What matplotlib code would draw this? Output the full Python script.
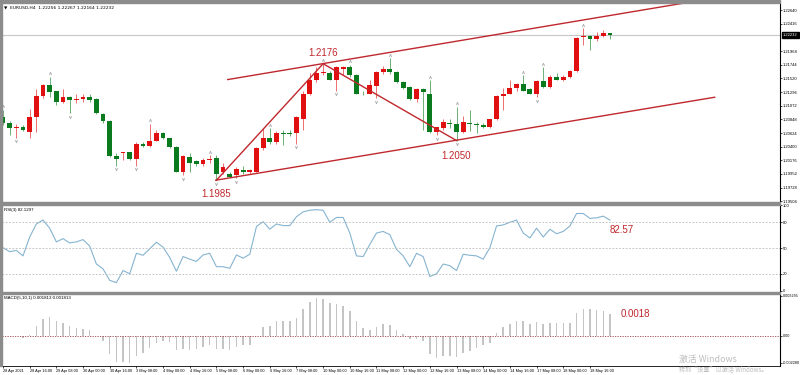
import matplotlib as mpl
mpl.use('agg')
import matplotlib.pyplot as plt
import matplotlib.transforms as mtrans
from matplotlib.patches import Rectangle
import numpy as np

plt.rcParams['font.family'] = ['Liberation Sans', 'DejaVu Sans']

# EURUSD H4 candles, 28 Apr 2021 00:00 .. 19 May 04:00
opens = [1.2088, 1.2078, 1.2070, 1.2073, 1.2064, 1.2088, 1.2123, 1.2141, 1.2131, 1.2113,
         1.2121, 1.2116, 1.2118, 1.2121, 1.2118, 1.2093, 1.2082, 1.2024, 1.2029, 1.2031,
         1.2019, 1.2045, 1.2041, 1.2050, 1.2062, 1.2054, 1.2039, 1.1998, 1.2023, 1.2016,
         1.2011, 1.2018, 1.2021, 1.1998, 1.1996, 1.1993, 1.2001, 1.1998, 1.1999, 1.2037,
         1.2055, 1.2047, 1.2062, 1.2062, 1.2062, 1.2086, 1.2127, 1.2149, 1.2160, 1.2160,
         1.2150, 1.2168, 1.2170, 1.2157, 1.2127, 1.2127, 1.2139, 1.2162, 1.2167, 1.2162,
         1.2146, 1.2137, 1.2118, 1.2134, 1.2127, 1.2064, 1.2070, 1.2078, 1.2077, 1.2064,
         1.2078, 1.2077, 1.2075, 1.2072, 1.2085, 1.2123, 1.2127, 1.2136, 1.2142, 1.2134,
         1.2127, 1.2147, 1.2137, 1.2154, 1.2149, 1.2154, 1.2164, 1.2219, 1.2221, 1.2216,
         1.2221, 1.22256]
highs = [1.2100, 1.2082, 1.2077, 1.2075, 1.2101, 1.2134, 1.2142, 1.2154, 1.2132, 1.2134,
         1.2123, 1.2126, 1.2126, 1.2126, 1.2119, 1.2095, 1.2083, 1.2029, 1.2032, 1.2032,
         1.2047, 1.2047, 1.2077, 1.2067, 1.2064, 1.2055, 1.2041, 1.2026, 1.2029, 1.2018,
         1.2021, 1.2026, 1.2026, 1.2013, 1.1998, 1.2006, 1.2009, 1.2004, 1.2039, 1.2070,
         1.2070, 1.2065, 1.2067, 1.2067, 1.2091, 1.2131, 1.2160, 1.2170, 1.2176, 1.2164,
         1.2172, 1.2173, 1.2174, 1.2159, 1.2132, 1.2149, 1.2164, 1.2172, 1.2185, 1.2164,
         1.2147, 1.2139, 1.2136, 1.2136, 1.2149, 1.2073, 1.2085, 1.2086, 1.2105, 1.2091,
         1.2100, 1.2080, 1.2078, 1.2086, 1.2124, 1.2136, 1.2149, 1.2144, 1.2157, 1.2136,
         1.2149, 1.2170, 1.2157, 1.2160, 1.2157, 1.2165, 1.2219, 1.2234, 1.2223, 1.2228,
         1.2232, 1.22267]
lows = [1.2075, 1.2059, 1.2055, 1.2065, 1.2055, 1.2064, 1.2119, 1.2121, 1.2108, 1.2111,
        1.2095, 1.2111, 1.2113, 1.2113, 1.2093, 1.2078, 1.2023, 1.2009, 1.2018, 1.2018,
        1.2009, 1.2039, 1.2039, 1.2049, 1.2052, 1.2037, 1.1998, 1.1993, 1.1998, 1.2009,
        1.2009, 1.2014, 1.1985, 1.1995, 1.1990, 1.1988, 1.1995, 1.1996, 1.1998, 1.2034,
        1.2045, 1.2045, 1.2042, 1.2057, 1.2045, 1.2067, 1.2124, 1.2146, 1.2157, 1.2149,
        1.2132, 1.2157, 1.2155, 1.2126, 1.2124, 1.2126, 1.2119, 1.2159, 1.2159, 1.2144,
        1.2134, 1.2116, 1.2114, 1.2067, 1.2062, 1.2059, 1.2067, 1.2070, 1.2050, 1.2062,
        1.2065, 1.2062, 1.2070, 1.2070, 1.2083, 1.2100, 1.2126, 1.2132, 1.2131, 1.2126,
        1.2121, 1.2136, 1.2136, 1.2149, 1.2147, 1.2152, 1.2162, 1.2206, 1.2198, 1.2214,
        1.2219, 1.22164]
closes = [1.2078, 1.2070, 1.2073, 1.2067, 1.2088, 1.2123, 1.2141, 1.2129, 1.2113, 1.2121,
          1.2116, 1.2118, 1.2121, 1.2116, 1.2095, 1.2082, 1.2024, 1.2019, 1.2031, 1.2019,
          1.2045, 1.2041, 1.2050, 1.2062, 1.2054, 1.2039, 1.1999, 1.2024, 1.2014, 1.2011,
          1.2018, 1.2019, 1.1995, 1.2006, 1.1991, 1.2003, 1.1998, 1.2001, 1.2037, 1.2055,
          1.2047, 1.2062, 1.2060, 1.2060, 1.2088, 1.2127, 1.2149, 1.2160, 1.2162, 1.2150,
          1.2170, 1.2170, 1.2157, 1.2127, 1.2126, 1.2141, 1.2162, 1.2167, 1.2162, 1.2146,
          1.2136, 1.2118, 1.2134, 1.2129, 1.2064, 1.2072, 1.2080, 1.2077, 1.2064, 1.2080,
          1.2077, 1.2075, 1.2072, 1.2085, 1.2123, 1.2127, 1.2136, 1.2142, 1.2132, 1.2127,
          1.2147, 1.2137, 1.2155, 1.2150, 1.2155, 1.2164, 1.2218, 1.2221, 1.2216, 1.2221,
          1.2226, 1.22232]

rsi = [50.4, 45.8, 47.3, 40.9, 62.9, 78.1, 82.7, 73.2, 57.2, 61.0,
       56.0, 57.2, 59.9, 52.3, 31.4, 25.7, 12.4, 9.7, 23.8, 20.0,
       43.9, 41.6, 49.2, 56.8, 51.1, 39.0, 23.0, 40.1, 37.1, 34.4,
       42.0, 43.9, 28.3, 28.3, 26.4, 42.0, 38.2, 42.8, 75.1, 80.8,
       72.0, 78.1, 76.2, 76.2, 86.5, 92.2, 94.1, 94.8, 94.1, 80.0,
       85.7, 85.7, 67.5, 40.9, 40.1, 54.2, 67.5, 69.4, 65.6, 48.5,
       40.9, 28.3, 43.9, 40.1, 16.9, 20.0, 31.4, 29.5, 23.8, 42.8,
       41.6, 40.9, 37.1, 50.4, 75.8, 77.0, 80.0, 82.7, 67.5, 61.8,
       73.2, 62.9, 72.0, 66.7, 69.4, 75.8, 90.3, 90.3, 84.6, 85.3,
       87.2, 82.57]

macd = [0.0, 0.0, -0.00006, -0.00019, 0.00006, 0.00078, 0.00139, 0.00153, 0.00117, 0.00106,
        0.00083, 0.00064, 0.00056, 0.00042, -0.00003, -0.00047, -0.00153, -0.00217, -0.00222, -0.00228,
        -0.00172, -0.00145, -0.00103, -0.00061, -0.00042, -0.00056, -0.00120, -0.00111, -0.00120, -0.00111,
        -0.00097, -0.00083, -0.00111, -0.00111, -0.00117, -0.00097, -0.00083, -0.00075, -0.00004, 0.00070,
        0.00083, 0.00117, 0.00125, 0.00117, 0.00147, 0.00217, 0.00278, 0.00314, 0.00306, 0.00272,
        0.00264, 0.00250, 0.00203, 0.00117, 0.00061, 0.00050, 0.00070, 0.00092, 0.00089, 0.00050,
        0.00014, -0.00033, -0.00033, -0.00042, -0.00153, -0.00189, -0.00167, -0.00167, -0.00181, -0.00147,
        -0.00125, -0.00103, -0.00083, -0.00061, 0.00019, 0.00070, 0.00097, 0.00125, 0.00117, 0.00092,
        0.00111, 0.00097, 0.00103, 0.00103, 0.00103, 0.00103, 0.00186, 0.00222, 0.00222, 0.00214,
        0.00208, 0.00181]

date_labels = ["28 Apr 2021", "28 Apr 16:00", "29 Apr 08:00", "30 Apr 00:00", "30 Apr 16:00",
               "3 May 08:00", "4 May 00:00", "4 May 16:00", "5 May 08:00", "6 May 00:00",
               "6 May 16:00", "7 May 08:00", "10 May 00:00", "10 May 16:00", "11 May 08:00",
               "12 May 00:00", "12 May 16:00", "13 May 08:00", "14 May 00:00", "14 May 16:00",
               "17 May 08:00", "18 May 00:00", "18 May 16:00"]

price_ticks = [1.22640, 1.22416, 1.21968, 1.21744, 1.21520, 1.21296, 1.21072, 1.20848,
               1.20624, 1.20400, 1.20176, 1.19952, 1.19728, 1.19504]
rsi_ticks = [100, 80, 50, 20, 0]
rsi_levels = [80, 50, 20]
macd_ticks = [0.003295, 0.0, -0.00228]

up_fractals = [0, 7, 22, 31, 40, 48, 52, 58, 64, 68, 78, 81, 87]
down_fractals = [2, 10, 17, 20, 27, 32, 35, 44, 50, 56, 65, 68, 80]

zigzag_idx = [32, 48, 68]
zigzag_val = [1.1985, 1.2176, 1.2050]
upper_x, upper_y = [33.7, 103.0], [1.2150, 1.2277]
lower_x, lower_y = [31.9, 106.7], [1.1985, 1.2121]

RED = '#e01010'
GREEN = '#0a7a1e'
LINE = '#c0282d'

fig = plt.figure(figsize=(8, 3.75), dpi=100)
W, H = 800.0, 375.0


def axes_px(x0, y0, x1, y1):
    return fig.add_axes([x0 / W, 1 - y1 / H, (x1 - x0) / W, (y1 - y0) / H])


ax = axes_px(2, 3, 780, 202)
ax_rsi = axes_px(2, 205, 780, 292)
ax_macd = axes_px(2, 294, 780, 366)

n = len(closes)
idx = np.arange(n)
o = np.array(opens); h = np.array(highs); l = np.array(lows); c = np.array(closes)
up = c >= o
cols = np.where(up, RED, GREEN)

# candles
ax.vlines(idx, l, h, colors=cols, linewidth=0.7, alpha=0.6, zorder=2)
body_lo = np.minimum(o, c)
body_h = np.maximum(np.abs(c - o), 0.00005)
ax.bar(idx, body_h, bottom=body_lo, width=0.72, color=cols, linewidth=0, zorder=3)

# fractals
ax.plot(up_fractals, h[up_fractals] + 0.0006, linestyle='none', marker=r'$\wedge$',
        markersize=2.0, color='#a8a8a8', markeredgewidth=0.2, zorder=2)
ax.plot(down_fractals, l[down_fractals] - 0.0006, linestyle='none', marker=r'$\vee$',
        markersize=2.0, color='#a8a8a8', markeredgewidth=0.2, zorder=2)

# channel and zigzag
ax.plot(upper_x, upper_y, color=LINE, linewidth=1.0, zorder=4)
ax.plot(lower_x, lower_y, color=LINE, linewidth=1.0, zorder=4)
ax.plot(zigzag_idx, zigzag_val, color=LINE, linewidth=1.0, zorder=4)
offs = [(0, -10), (0, 8), (0, -11)]
for xi, v, off in zip(zigzag_idx, zigzag_val, offs):
    ax.annotate(f"{v:.4f}", (xi, v), xytext=off, textcoords='offset points',
                ha='center', va='center', color=LINE, fontsize=7)

# current price line
ax.axhline(closes[-1], color='#c8c8c8', linewidth=0.8, zorder=1)

ax.set_xlim(-0.15, 116.5)
ax.set_ylim(1.19493, 1.22755)
ax.yaxis.tick_right()
ax.set_yticks(price_ticks)
ax.set_yticklabels([f"{v:.5f}" for v in price_ticks])
ax.set_xticks([])
trans = mtrans.blended_transform_factory(ax.transAxes, ax.transData)
ax.text(1.004, closes[-1], f"{closes[-1]:.5f}", transform=trans, fontsize=3.0,
        color='white', va='center', ha='left',
        bbox=dict(boxstyle='square,pad=0.25', fc='black', ec='black'))
ax.text(0.003, 0.985, "\u25bc  EURUSD,H4  1.22256 1.22267 1.22164 1.22232",
        transform=ax.transAxes, fontsize=3.2, va='top', ha='left',
        family=['DejaVu Sans'])

# RSI
ax_rsi.plot(idx, rsi, color='#86b4d0', linewidth=0.8)
for lv in rsi_levels:
    ax_rsi.axhline(lv, color='#b8b8b8', linewidth=0.6, linestyle=(0, (2, 2)))
ax_rsi.set_xlim(-0.15, 116.5)
ax_rsi.set_ylim(-1.2, 100.2)
ax_rsi.yaxis.tick_right()
ax_rsi.set_yticks(rsi_ticks)
ax_rsi.set_yticklabels([str(t) for t in rsi_ticks])
ax_rsi.set_xticks([])
ax_rsi.text(0.003, 0.97, "RSI(3) 82.1297", transform=ax_rsi.transAxes, fontsize=3.2,
            va='top', ha='left')
ax_rsi.annotate(f"{rsi[-1]:.2f}", (n - 1, rsi[-1]), xytext=(0, -7), textcoords='offset points',
                ha='left', va='center', color=LINE, fontsize=7)

# MACD
ax_macd.bar(idx, macd, width=0.22, color='#c4c4c4', linewidth=0)
ax_macd.axhline(0, color='#a04040', linewidth=0.6, linestyle=(0, (1.5, 1.5)))
ax_macd.set_xlim(-0.15, 116.5)
ax_macd.set_ylim(-0.00254, 0.00346)
ax_macd.yaxis.tick_right()
ax_macd.set_yticks(macd_ticks)
ax_macd.set_yticklabels(["0.003295", "0.00", "-0.002280"])
ax_macd.text(0.003, 0.97, "MACD(5,10,1) 0.001813 0.001813", transform=ax_macd.transAxes,
             fontsize=3.2, va='top', ha='left')
ax_macd.annotate(f"{0.0018:.4f}", (n - 1, macd[-1]), xytext=(8, 0), textcoords='offset points',
                 ha='left', va='center', color=LINE, fontsize=7)
ax_macd.set_xticks(np.arange(0, 4 * len(date_labels), 4))
ax_macd.set_xticklabels(date_labels, ha='left')

for a in (ax, ax_rsi, ax_macd):
    for s in ('top', 'left', 'bottom'):
        a.spines[s].set_visible(False)
    a.spines['right'].set_linewidth(0.8)
    a.tick_params(axis='y', labelsize=3.0, length=1.5, width=0.5, pad=0.8)
ax_macd.tick_params(axis='y', labelsize=2.7)
ax_macd.spines['bottom'].set_visible(True)
ax_macd.spines['bottom'].set_linewidth(0.6)
ax_macd.tick_params(axis='x', labelsize=2.8, length=1.5, width=0.5, pad=1)

# window frame / panel separators
for (x0, y0, x1, y1) in [(0, 0, 780, 3), (0, 202, 780, 205), (0, 292, 780, 294), (0, 0, 1.6, 366)]:
    fig.add_artist(Rectangle((x0 / W, 1 - y1 / H), (x1 - x0) / W, (y1 - y0) / H,
                             transform=fig.transFigure, color='#8c8c8c', zorder=10))

# Windows activation watermark
fig.text(679 / W, 1 - 359 / H, "激活 Windows", fontsize=6.4, color='#bdbdbd',
         family=['Noto Sans CJK SC', 'DejaVu Sans'], va='center', ha='left')
fig.text(679 / W, 1 - 369.5 / H, "转到“设置”以激活 Windows。", fontsize=4.4, color='#bdbdbd',
         family=['Noto Sans CJK SC', 'DejaVu Sans'], va='center', ha='left')

plt.savefig("out.png", dpi=100)
